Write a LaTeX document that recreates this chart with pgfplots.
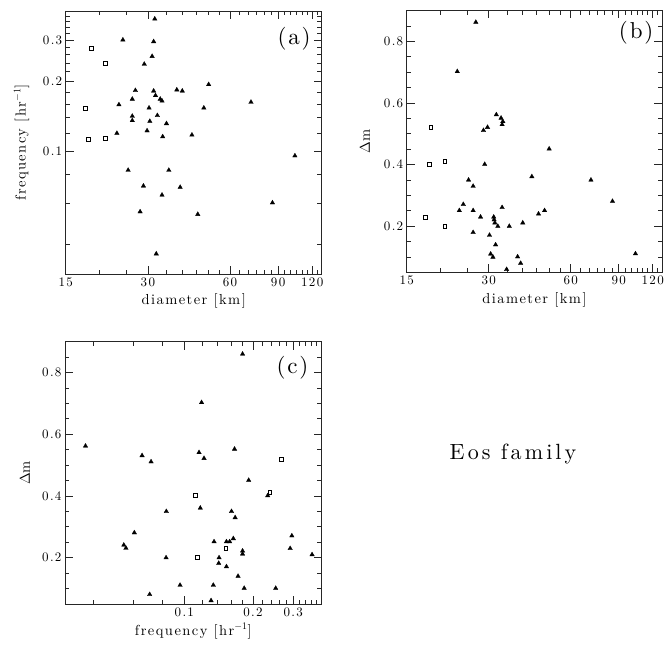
\documentclass[border=0pt]{standalone}
\usepackage{fontspec}
\setmainfont{lmroman10-regular}[Extension=.otf, BoldFont=lmroman10-bold, ItalicFont=lmroman10-italic]
\usepackage{pgfplots}
\usepackage{pgfplotstable}
\pgfplotsset{compat=1.18}
\newcommand\ticklab{\fontsize{13}{15}\selectfont\addfontfeatures{LetterSpace=10}}
\newcommand\lab{\fontsize{14.5}{16}\selectfont\addfontfeatures{LetterSpace=10}}
\newcommand\panlab{\fontsize{23}{26}\selectfont\addfontfeatures{LetterSpace=8}}

% panel (a): diameter [km], frequency [1/hr]
\pgfplotstableread{
D f
31.8 0.370
24.3 0.301
31.5 0.296
31.1 0.256
29.1 0.237
50.1 0.194
27.0 0.183
31.5 0.182
38.3 0.184
40.1 0.182
32.0 0.174
26.3 0.168
33.3 0.168
33.8 0.165
23.5 0.159
30.3 0.154
48.1 0.154
26.3 0.142
32.5 0.143
26.3 0.136
30.5 0.135
35.1 0.132
29.8 0.123
23.1 0.120
34.0 0.116
43.5 0.118
25.4 0.0834
35.8 0.0834
28.9 0.0714
39.4 0.0705
33.8 0.0653
28.1 0.0554
45.7 0.0540
32.2 0.0366
71.6 0.163
103.7 0.0961
85.8 0.0605
}\atri
\pgfplotstableread{
D f
18.6 0.276
20.9 0.239
17.7 0.153
18.1 0.113
20.9 0.114
}\asq
% panel (b): diameter, delta m
\pgfplotstableread{
D dm
32.0 0.562
33.3 0.551
33.8 0.540
33.6 0.530
29.7 0.521
28.7 0.511
50.0 0.451
29.0 0.401
43.2 0.361
25.3 0.350
26.3 0.330
24.2 0.271
23.4 0.251
26.3 0.251
33.6 0.261
45.7 0.240
48.1 0.251
28.0 0.230
31.3 0.230
31.4 0.221
31.6 0.211
32.4 0.200
35.7 0.200
40.0 0.211
26.3 0.180
30.2 0.171
31.8 0.140
30.5 0.110
31.1 0.100
38.3 0.101
39.3 0.080
34.9 0.060
26.9 0.862
23.0 0.702
71.2 0.350
85.4 0.281
103.7 0.111
}\btri
\pgfplotstableread{
D dm
18.4 0.520
20.7 0.410
18.1 0.400
17.5 0.230
20.7 0.200
}\bsq
% panel (c): frequency, delta m
\pgfplotstableread{
f dm
0.1915 0.451
0.232 0.401
0.0834 0.350
0.1175 0.361
0.161 0.350
0.167 0.330
0.296 0.271
0.135 0.252
0.153 0.252
0.158 0.252
0.164 0.262
0.291 0.230
0.180 0.222
0.180 0.212
0.0832 0.200
0.142 0.200
0.363 0.210
0.1415 0.182
0.153 0.171
0.172 0.140
0.0958 0.111
0.134 0.111
0.183 0.101
0.2515 0.101
0.131 0.061
0.180 0.860
0.119 0.703
0.0369 0.562
0.0653 0.531
0.0715 0.511
0.116 0.541
0.122 0.522
0.166 0.552
0.0604 0.281
0.0543 0.241
0.0555 0.231
0.0705 0.081
}\ctri
\pgfplotstableread{
f dm
0.112 0.401
0.237 0.411
0.114 0.201
0.152 0.230
0.267 0.520
}\csq

\pgfplotsset{
  eos/.style={
    scale only axis,
    tick align=inside,
    major tick length=8pt,
    minor tick length=4.3pt,
    axis line style={line width=0.8pt, black!85},
    every tick/.style={black!85, line width=0.7pt},
    tick label style={font=\ticklab},
    label style={font=\lab},
    xlabel style={at={(axis description cs:0.5,-0.103)}, anchor=center},
  },
  tri/.style={only marks, mark=triangle*, mark size=2.6pt, mark options={fill=black, draw=black, line width=0.3pt}},
  sqr/.style={only marks, mark=square, mark size=1.9pt, mark options={draw=black, line width=0.6pt}},
}

\begin{document}
\begin{tikzpicture}
\path[use as bounding box] (0pt,0pt) rectangle (667pt,647pt);

% (a)
\begin{axis}[eos,
  at={(65.7pt,636pt)}, anchor=north west,
  width=256pt, height=263pt,
  xmode=log, xmin=15, xmax=130,
  xtick={15,30,60,90,120}, xticklabels={15,30,60,90,120},
  minor xtick={20,25,35,40,45,50,55,65,70,75,80,85,95,100,105,110,115,125},
  xlabel={diameter [km]},
  ymode=log, ymin=0.03, ymax=0.4,
  ytick={0.1,0.2,0.3}, yticklabels={0.1,0.2,0.3},
  minor ytick={0.04,0.06,0.08,0.12,0.14,0.16,0.18,0.22,0.24,0.26,0.28,0.32,0.34,0.36,0.38},
  ylabel={frequency [hr$^{-1}$]},
  ylabel style={at={(axis description cs:-0.172,0.5)}, anchor=center},
]
\addplot[tri] table[x=D,y=f] {\atri};
\addplot[sqr] table[x=D,y=f] {\asq};
\node[font=\panlab] at (rel axis cs:0.892,0.894) {(a)};
\end{axis}

% (b)
\begin{axis}[eos,
  at={(406.7pt,636.5pt)}, anchor=north west,
  width=255.5pt, height=262pt,
  xmode=log, xmin=15, xmax=130,
  xtick={15,30,60,90,120}, xticklabels={15,30,60,90,120},
  minor xtick={20,25,35,40,45,50,55,65,70,75,80,85,95,100,105,110,115,125},
  xlabel={diameter [km]},
  ymin=0.05, ymax=0.9,
  ytick={0.2,0.4,0.6,0.8}, yticklabels={0.2,0.4,0.6,0.8},
  minor ytick={0.1,0.15,0.25,0.3,0.35,0.45,0.5,0.55,0.65,0.7,0.75,0.85},
  ylabel={$\Delta$m},
  ylabel style={at={(axis description cs:-0.163,0.5)}, anchor=center},
]
\addplot[tri] table[x=D,y=dm] {\btri};
\addplot[sqr] table[x=D,y=dm] {\bsq};
\node[font=\panlab] at (rel axis cs:0.898,0.914) {(b)};
\end{axis}

% (c)
\begin{axis}[eos,
  at={(65pt,305.3pt)}, anchor=north west,
  width=256.7pt, height=262.3pt,
  xmode=log, xmin=0.03, xmax=0.4,
  xtick={0.1,0.2,0.3}, xticklabels={0.1,0.2,0.3},
  minor xtick={0.04,0.06,0.08,0.12,0.14,0.16,0.18,0.22,0.24,0.26,0.28,0.32,0.34,0.36,0.38},
  xlabel={frequency [hr$^{-1}$]},
  ymin=0.05, ymax=0.9,
  ytick={0.2,0.4,0.6,0.8}, yticklabels={0.2,0.4,0.6,0.8},
  minor ytick={0.1,0.15,0.25,0.3,0.35,0.45,0.5,0.55,0.65,0.7,0.75,0.85},
  ylabel={$\Delta$m},
  ylabel style={at={(axis description cs:-0.156,0.5)}, anchor=center},
]
\addplot[tri] table[x=f,y=dm] {\ctri};
\addplot[sqr] table[x=f,y=dm] {\csq};
\node[font=\panlab] at (rel axis cs:0.886,0.9) {(c)};
\end{axis}

\node[anchor=base, font=\fontsize{22}{26}\selectfont\addfontfeatures{LetterSpace=14}] at (513pt,187pt) {Eos family};
\end{tikzpicture}
\end{document}
